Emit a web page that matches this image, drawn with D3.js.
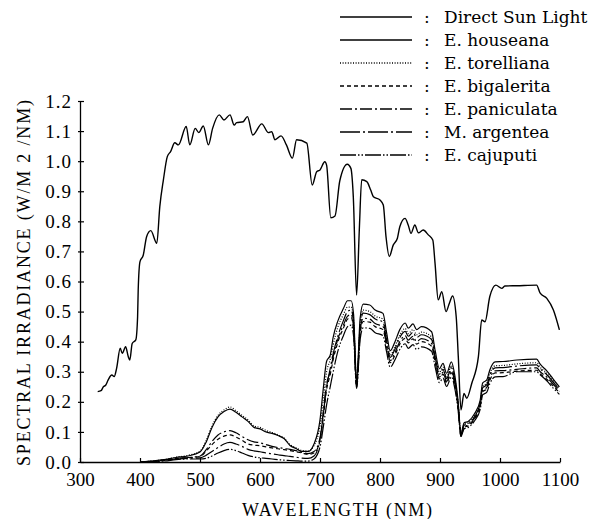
<!DOCTYPE html>
<html>
<head>
<meta charset="utf-8">
<script src="https://cdn.jsdelivr.net/npm/d3@7"></script>
<style>
  body { margin: 0; background: #fff; }
</style>
</head>
<body>
<div id="chart"></div>
<script>
// wavelength (nm) and irradiance (W/m2/nm)
const sunWavelength = [329.5, 335, 339, 343, 347, 353, 357, 361, 367, 370.5, 376, 380.5, 383, 387, 393, 396, 397,
  400, 405.5, 411, 418, 428, 433, 439, 445.5, 451, 458, 464, 477, 483, 492, 498, 505.5, 514, 521, 532, 540, 550,
  557, 561, 572, 579, 588, 603, 614, 619.5, 625, 635, 644, 654, 661, 678, 687, 694.5, 700, 708, 711, 718, 725,
  733, 745.5, 751.5, 755.5, 761, 765.5, 769.5, 778, 784.5, 789, 800, 805.5, 810, 815.5, 822, 829, 833, 841.7,
  847, 851.7, 858, 864, 872, 880.5, 888, 891.7, 897, 903, 910, 915.5, 921, 927, 930.5, 935, 940, 944.5, 953,
  964, 969.5, 975, 983, 993, 1003, 1008, 1028, 1061, 1067, 1078, 1089, 1099];
const sunIrradiance = [0.234, 0.237, 0.25, 0.256, 0.273, 0.289, 0.284, 0.311, 0.378, 0.361, 0.383, 0.35, 0.339, 0.394, 0.406, 0.483, 0.572,
  0.666, 0.688, 0.749, 0.769, 0.727, 0.849, 0.938, 1.015, 1.032, 1.061, 1.054, 1.115, 1.054, 1.109, 1.095, 1.117, 1.054, 1.109, 1.154, 1.137, 1.154,
  1.12, 1.128, 1.131, 1.148, 1.087, 1.124, 1.095, 1.098, 1.071, 1.084, 1.054, 1.01, 1.071, 1.06, 0.921, 0.965, 0.971, 0.998, 0.987, 0.812, 0.818,
  0.935, 0.99, 0.976, 0.882, 0.555, 0.771, 0.938, 0.932, 0.904, 0.882, 0.871, 0.854, 0.749, 0.683, 0.721, 0.744, 0.782, 0.81,
  0.788, 0.76, 0.788, 0.762, 0.771, 0.755, 0.738, 0.661, 0.539, 0.566, 0.5, 0.527, 0.552, 0.483, 0.35, 0.173, 0.228, 0.212, 0.262,
  0.35, 0.472, 0.466, 0.55, 0.588, 0.577, 0.585, 0.586, 0.588, 0.561, 0.544, 0.505, 0.439];

const leafWavelength = [400, 440, 460, 480, 500, 510, 520, 530, 540, 550, 560, 570, 580, 590, 600, 610, 620, 630, 640, 650,
  660, 670, 680, 690, 700, 705, 711, 717, 722, 730, 739, 746, 752, 756, 761, 767, 772, 783, 792, 805, 811, 817, 825,
  833, 842, 847, 855, 861, 869, 886, 892, 899, 905, 911, 919, 925, 930, 935, 940, 947, 958, 967, 971, 978, 983, 992,
  1005, 1028, 1061, 1067, 1078, 1089, 1099];

const houseana = [0, .008, .015, .02, .033, .065, .115, .15, .168, .176, .165, .15, .135, .115, .11, .1, .095, .088, .078, .055,
  .045, .035, .035, .06, .14, .235, .335, .355, .415, .47, .51, .536, .536, .49, .27, .48, .525, .522, .505, .494, .43, .37, .40,
  .44, .462, .445, .459, .44, .45, .433, .37, .31, .328, .295, .333, .284, .206, .095, .13, .135, .162, .206, .262, .273, .306, .333,
  .334, .339, .342, .325, .303, .275, .25];
const torelliana = [0, .008, .016, .022, .036, .07, .12, .155, .173, .183, .17, .155, .14, .12, .115, .105, .098, .09, .08, .058,
  .047, .038, .036, .055, .12, .20, .30, .34, .39, .45, .49, .515, .515, .47, .265, .46, .505, .50, .485, .475, .415, .355, .385,
  .422, .444, .427, .44, .423, .432, .416, .356, .298, .315, .283, .32, .273, .198, .092, .125, .13, .156, .198, .252, .262, .294, .32,
  .321, .326, .33, .315, .295, .27, .245];
const bigalerita = [0, .006, .011, .014, .018, .035, .058, .076, .086, .09, .083, .072, .06, .056, .054, .05, .047, .044, .041, .038,
  .034, .03, .025, .03, .07, .14, .24, .29, .34, .40, .445, .475, .48, .436, .25, .427, .467, .465, .45, .44, .383, .33, .356,
  .392, .411, .396, .409, .392, .40, .385, .33, .276, .292, .263, .296, .253, .183, .085, .116, .12, .144, .183, .233, .243, .272, .296,
  .297, .302, .305, .293, .275, .252, .23];
const paniculata = [0, .006, .012, .015, .02, .04, .068, .09, .1, .104, .097, .085, .074, .067, .064, .058, .052, .048, .045, .042,
  .038, .032, .028, .035, .08, .16, .26, .30, .35, .41, .455, .485, .49, .445, .255, .437, .478, .475, .46, .45, .391, .337, .364,
  .40, .42, .405, .418, .40, .41, .394, .337, .282, .298, .268, .303, .258, .188, .088, .118, .123, .147, .188, .238, .248, .278, .303,
  .304, .308, .313, .30, .282, .258, .235];
const argentea = [0, .004, .01, .012, .014, .022, .035, .048, .06, .065, .06, .052, .042, .037, .034, .03, .027, .024, .021, .019,
  .016, .013, .012, .02, .075, .15, .25, .31, .36, .42, .47, .50, .505, .46, .26, .45, .495, .49, .475, .465, .405, .348, .376,
  .414, .434, .418, .431, .414, .423, .407, .348, .292, .308, .277, .313, .267, .194, .09, .122, .127, .152, .194, .246, .257, .288, .313,
  .314, .319, .323, .31, .29, .265, .24];
const cajuputi = [0, .003, .008, .01, .01, .012, .02, .03, .038, .042, .038, .03, .022, .017, .014, .012, .01, .008, .006, .005,
  .004, .003, .003, .01, .05, .11, .19, .25, .30, .37, .42, .45, .455, .417, .245, .408, .446, .444, .43, .42, .366, .315, .34,
  .374, .393, .378, .39, .374, .383, .368, .315, .264, .279, .251, .283, .241, .175, .085, .11, .115, .138, .175, .223, .232, .26, .283,
  .284, .30, .30, .29, .27, .245, .225];

const seriesNames = ["Direct Sun Light", "E. houseana", "E. torelliana", "E. bigalerita", "E. paniculata", "M. argentea", "E. cajuputi"];
const xTicks = [300, 400, 500, 600, 700, 800, 900, 1000, 1100];
const yTicks = [0, 0.1, 0.2, 0.3, 0.4, 0.5, 0.6, 0.7, 0.8, 0.9, 1.0, 1.1, 1.2];

var width = 602;
var height = 519;
var margin = { top: 101, right: 42, bottom: 57, left: 80 };
var plotW = width - margin.left - margin.right;
var plotH = height - margin.top - margin.bottom;

// line styles per series, same order as seriesNames
var dashes = [null, null, "1,1.6", "4,3", "12,3,2,3", "20,3,2,3", "16,2,1.5,2,1.5,2"];

var x = d3.scaleLinear().domain([300, 1100]).range([0, plotW]);
var y = d3.scaleLinear().domain([0, 1.2]).range([plotH, 0]);

var svg = d3.select("#chart").append("svg")
    .attr("width", width)
    .attr("height", height);

var g = svg.append("g")
    .attr("transform", `translate(${margin.left}, ${margin.top})`);

var xAxis = g.append("g")
    .attr("transform", `translate(0, ${plotH})`)
    .call(d3.axisBottom(x).tickValues(xTicks).tickFormat(d3.format("d"))
      .tickSizeInner(-4).tickSizeOuter(0).tickPadding(11));

var yAxis = g.append("g")
    .call(d3.axisLeft(y).tickValues(yTicks).tickFormat(d3.format(".1f"))
      .tickSizeInner(-4).tickSizeOuter(0).tickPadding(8));
yAxis.selectAll(".tick line").attr("x1", -2).attr("x2", 4);

[xAxis, yAxis].forEach(function(ax) {
  ax.select(".domain").attr("stroke", "#000").attr("stroke-width", 1.3);
  ax.selectAll(".tick line").attr("stroke", "#000").attr("stroke-width", 1.2);
  ax.selectAll(".tick text")
    .attr("fill", "#000")
    .style("font-family", "'Liberation Serif', serif")
    .style("font-size", "19px");
});
yAxis.selectAll(".tick text").style("letter-spacing", "1px");

svg.append("text")
    .attr("x", 337)
    .attr("y", 516)
    .attr("text-anchor", "middle")
    .attr("textLength", 190)
    .attr("lengthAdjust", "spacing")
    .style("font-family", "'Liberation Serif', serif")
    .style("font-size", "18px")
    .text("WAVELENGTH (NM)");

svg.append("text")
    .attr("transform", "translate(30, 283) rotate(-90)")
    .attr("text-anchor", "middle")
    .attr("textLength", 366)
    .attr("lengthAdjust", "spacing")
    .style("font-family", "'Liberation Serif', serif")
    .style("font-size", "18px")
    .text("SPECTRAL IRRADIANCE (W/M 2 /NM)");

var line = d3.line()
    .x(d => x(d[0]))
    .y(d => y(d[1]))
    .curve(d3.curveMonotoneX);

var leafSeries = [houseana, torelliana, bigalerita, paniculata, argentea, cajuputi];
var allSeries = [d3.zip(sunWavelength, sunIrradiance)]
    .concat(leafSeries.map(vals => d3.zip(leafWavelength, vals)));

g.selectAll(".curve")
    .data(allSeries)
    .enter()
    .append("path")
    .attr("class", "curve")
    .attr("fill", "none")
    .attr("stroke", "#000")
    .attr("stroke-width", (d, i) => i === 0 ? 1.4 : 1.2)
    .attr("stroke-dasharray", (d, i) => dashes[i])
    .attr("d", line);

// legend
var legend = svg.append("g");
var rows = legend.selectAll(".legend")
    .data(seriesNames)
    .enter()
    .append("g")
    .attr("class", "legend")
    .attr("transform", (d, i) => `translate(340, ${17 + i * 23})`);

rows.append("line")
    .attr("x1", 0).attr("x2", 72)
    .attr("y1", 0).attr("y2", 0)
    .attr("stroke", "#000")
    .attr("stroke-width", (d, i) => i === 0 ? 1.6 : 1.3)
    .attr("stroke-dasharray", (d, i) => dashes[i]);

rows.append("text")
    .attr("x", 84)
    .attr("y", 6)
    .style("font-family", "'DejaVu Serif', serif")
    .style("font-size", "17px")
    .text(":");

rows.append("text")
    .attr("x", 104)
    .attr("y", 6)
    .style("font-family", "'DejaVu Serif', serif")
    .style("font-size", "17px")
    .text(d => d);
</script>
</body>
</html>
